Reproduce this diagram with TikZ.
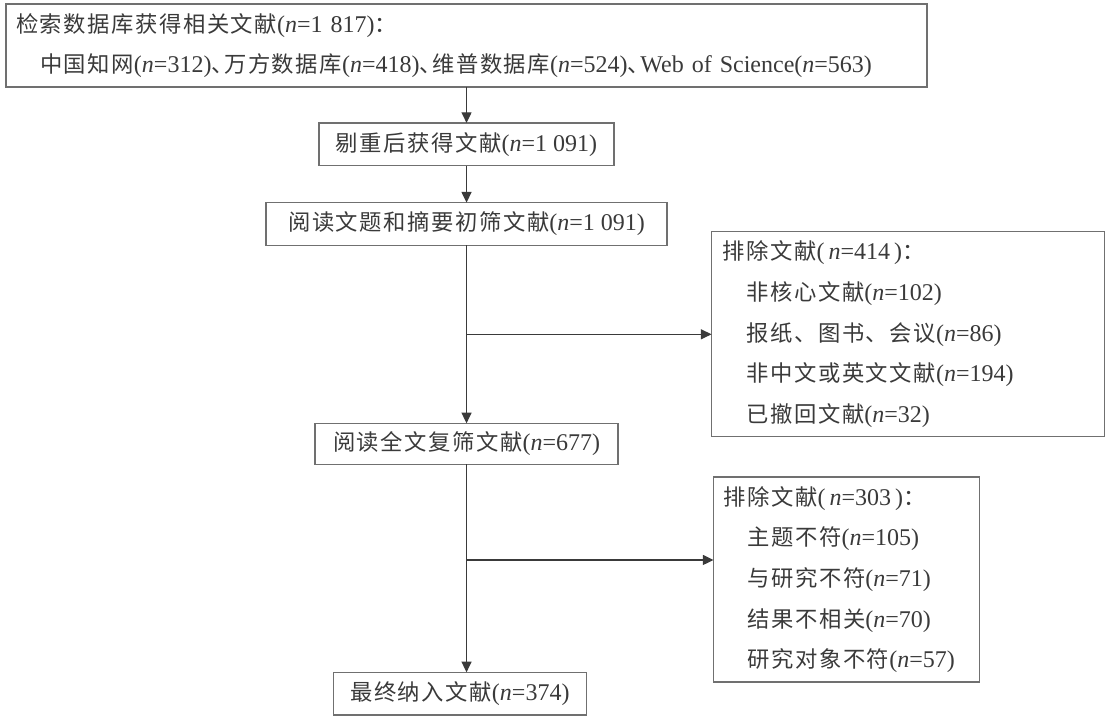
\documentclass[tikz,border=0pt]{standalone}
\usepackage{fontspec}
\setmainfont{Liberation Serif}
\newfontfamily\cjk[Scale=0.93,LetterSpace=7]{Noto Sans CJK SC}
\usetikzlibrary{arrows.meta,positioning,calc}
\definecolor{ink}{HTML}{3A3A3A}
\definecolor{frame}{HTML}{707070}
\newcommand\zh[1]{{\cjk #1}}
\newcommand\excindent{\hspace*{1em}}
\newcommand\dun{\zh{、}\hspace{-0.4em}}
\tikzset{
  box/.style={draw=frame, line width=0.9pt, align=center, text=ink, font=\fontsize{18}{30.5}\selectfont, minimum height=32pt, inner xsep=7.5pt, inner ysep=1pt, outer sep=0pt},
  widebox/.style={box, align=left},
  arrow/.style={-{Triangle[length=8pt, width=7.5pt]}, line width=0.9pt, draw=ink}
}

\begin{document}
\begin{tikzpicture}
  \useasboundingbox (0,0) rectangle (832.5pt,-537.75pt);

  % main column
  \node[widebox, text width=675.75pt, minimum height=62.25pt] (search) at (349.9pt,-34.1pt) {\zh{检索数据库获得相关文献}(\textit{n}=1~817)\zh{：}\\\excindent\zh{中国知网}(\textit{n}=312)\dun\zh{万方数据库}(\textit{n}=418)\dun\zh{维普数据库}(\textit{n}=524)\dun Web of Science(\textit{n}=563)};
  \node[box, minimum width=221.25pt, below=27pt of search] (dedup) {\zh{剔重后获得文献}(\textit{n}=1~091)};
  \node[box, minimum width=300.75pt, below=27.75pt of dedup] (screen) {\zh{阅读文题和摘要初筛文献}(\textit{n}=1~091)};
  \node[box, minimum width=227.25pt, minimum height=30.75pt, below=133.5pt of screen] (fulltext) {\zh{阅读全文复筛文献}(\textit{n}=677)};
  \node[box, minimum width=189.75pt, below=156pt of fulltext, xshift=-5pt] (final) {\zh{最终纳入文献}(\textit{n}=374)};

  \coordinate (split1) at ($(screen.south)!0.5!(fulltext.north)$);
  \coordinate (split2) at ($(fulltext.south)!0.46!(fulltext.south |- final.north)$);

  % excluded records
  \node[widebox, text width=278.25pt, inner xsep=8.25pt, minimum height=153.75pt, right=183.75pt of split1] (excl1) {\zh{排除文献}(\,\textit{n}=414\,)\zh{：}\\\excindent\zh{非核心文献}(\textit{n}=102)\\\excindent\zh{报纸、图书、会议}(\textit{n}=86)\\\excindent\zh{非中文或英文文献}(\textit{n}=194)\\\excindent\zh{已撤回文献}(\textit{n}=32)};
  \node[widebox, text width=184.5pt, minimum height=153.75pt, right=185.25pt of split2, yshift=-14.6pt] (excl2) {\zh{排除文献}(\,\textit{n}=303\,)\zh{：}\\\excindent\zh{主题不符}(\textit{n}=105)\\\excindent\zh{与研究不符}(\textit{n}=71)\\\excindent\zh{结果不相关}(\textit{n}=70)\\\excindent\zh{研究对象不符}(\textit{n}=57)};

  \draw[arrow] (search) -- (dedup);
  \draw[arrow] (dedup) -- (screen);
  \draw[arrow] (screen) -- (fulltext);
  \draw[arrow] (fulltext.south) -- (fulltext.south |- final.north);
  \draw[arrow] (split1) -- (excl1);
  \draw[arrow] (split2) -- (split2 -| excl2.west);
\end{tikzpicture}
\end{document}
